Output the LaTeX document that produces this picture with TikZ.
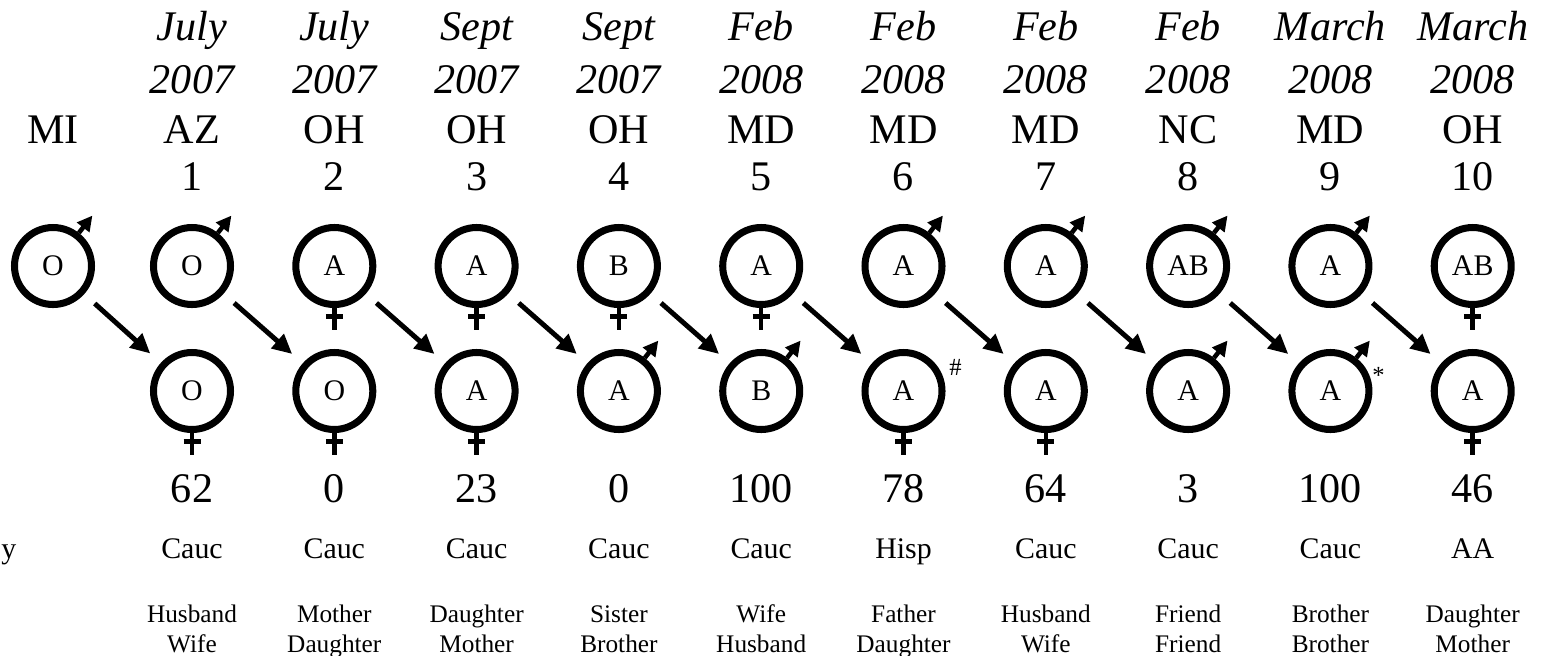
\documentclass[tikz,border=0pt]{standalone}
\usepackage{fontspec}
\setmainfont{Liberation Serif}
\usetikzlibrary{arrows.meta}

\tikzset{
  blood/.style={circle, draw, line width=2pt, minimum size=0.77cm, inner sep=0pt,
    font=\fontsize{8.5}{10}\selectfont},
  sexline/.style={line width=1.3pt},
  link/.style={line width=1.4pt, -{Triangle[length=5.6pt,width=5.2pt]},
    shorten <=4pt, shorten >=4pt},
  big/.style={anchor=base, inner sep=0pt, font=\fontsize{12}{14}\selectfont},
  when/.style={big, font=\fontsize{12}{14}\selectfont\itshape},
  ethnic/.style={anchor=base, inner sep=0pt, font=\fontsize{8.5}{10}\selectfont},
  kin/.style={anchor=base, inner sep=0pt, font=\fontsize{7.2}{9}\selectfont},
  note/.style={inner sep=0pt, font=\fontsize{7}{8}\selectfont}
}

\begin{document}
\begin{tikzpicture}
    \useasboundingbox (0,0) rectangle (15.42,-6.55);

    % donor in column 0
    \node[big] (st0) at (0.53,-1.43) {MI};
    \node[blood] (t0) at (0.53,-2.66) {O};
    \node[ethnic, anchor=base east] (eth0) at (0.17,-5.58) {y};

    % column heads
    \foreach \i/\mon/\yr/\st in {1/July/2007/AZ, 2/July/2007/OH, 3/Sept/2007/OH,
        4/Sept/2007/OH, 5/Feb/2008/MD, 6/Feb/2008/MD, 7/Feb/2008/MD,
        8/Feb/2008/NC, 9/March/2008/MD, 10/March/2008/OH} {
        \node[when] (mon\i) at ({1.92+(\i-1)*1.423},-0.40) {\mon};
        \node[when] (yr\i) at ({1.92+(\i-1)*1.423},-0.93) {\yr};
        \node[big] (st\i) at ({1.92+(\i-1)*1.423},-1.43) {\st};
        \node[big] (nr\i) at ({1.92+(\i-1)*1.423},-1.90) {\i};
    }

    % donors (top) and recipients (bottom)
    \foreach \i/\top/\bot in {1/O/O, 2/A/O, 3/A/A, 4/B/A, 5/A/B, 6/A/A,
        7/A/A, 8/AB/A, 9/A/A, 10/AB/A} {
        \node[blood] (t\i) at ({1.92+(\i-1)*1.423},-2.66) {\top};
        \node[blood] (b\i) at ({1.92+(\i-1)*1.423},-3.91) {\bot};
    }

    % male and female marks
    \foreach \n in {t0, t1, t6, t7, t8, t9, b4, b5, b8, b9}
        \draw[sexline, -{Triangle[length=4.3pt,width=4.3pt]}] (\n.52) -- ++(52:0.22);
    \foreach \n in {t2, t3, t4, t5, t10, b1, b2, b3, b6, b7, b10}
        \draw[sexline] (\n.south) -- ++(0,-0.22)
            (\n.south) ++(-0.085,-0.085) -- ++(0.17,0);

    \node[note] (hash) at ([shift={(0.52,0.24)}]b6.center) {\#};
    \node[note] (star) at ([shift={(0.48,0.16)}]b9.center) {*};

    % transmissions
    \foreach \i [remember=\i as \j (initially 0)] in {1,...,10}
        \draw[link] (t\j) -- (b\i);

    % bottom rows
    \foreach \i/\pct/\eth/\one/\two in {1/62/Cauc/Husband/Wife,
        2/0/Cauc/Mother/Daughter, 3/23/Cauc/Daughter/Mother,
        4/0/Cauc/Sister/Brother, 5/100/Cauc/Wife/Husband,
        6/78/Hisp/Father/Daughter, 7/64/Cauc/Husband/Wife,
        8/3/Cauc/Friend/Friend, 9/100/Cauc/Brother/Brother,
        10/46/AA/Daughter/Mother} {
        \node[big] (pct\i) at ({1.92+(\i-1)*1.423},-5.02) {\pct};
        \node[ethnic] (eth\i) at ({1.92+(\i-1)*1.423},-5.58) {\eth};
        \node[kin] (don\i) at ({1.92+(\i-1)*1.423},-6.22) {\one};
        \node[kin] (rec\i) at ({1.92+(\i-1)*1.423},-6.52) {\two};
    }
\end{tikzpicture}
\end{document}
